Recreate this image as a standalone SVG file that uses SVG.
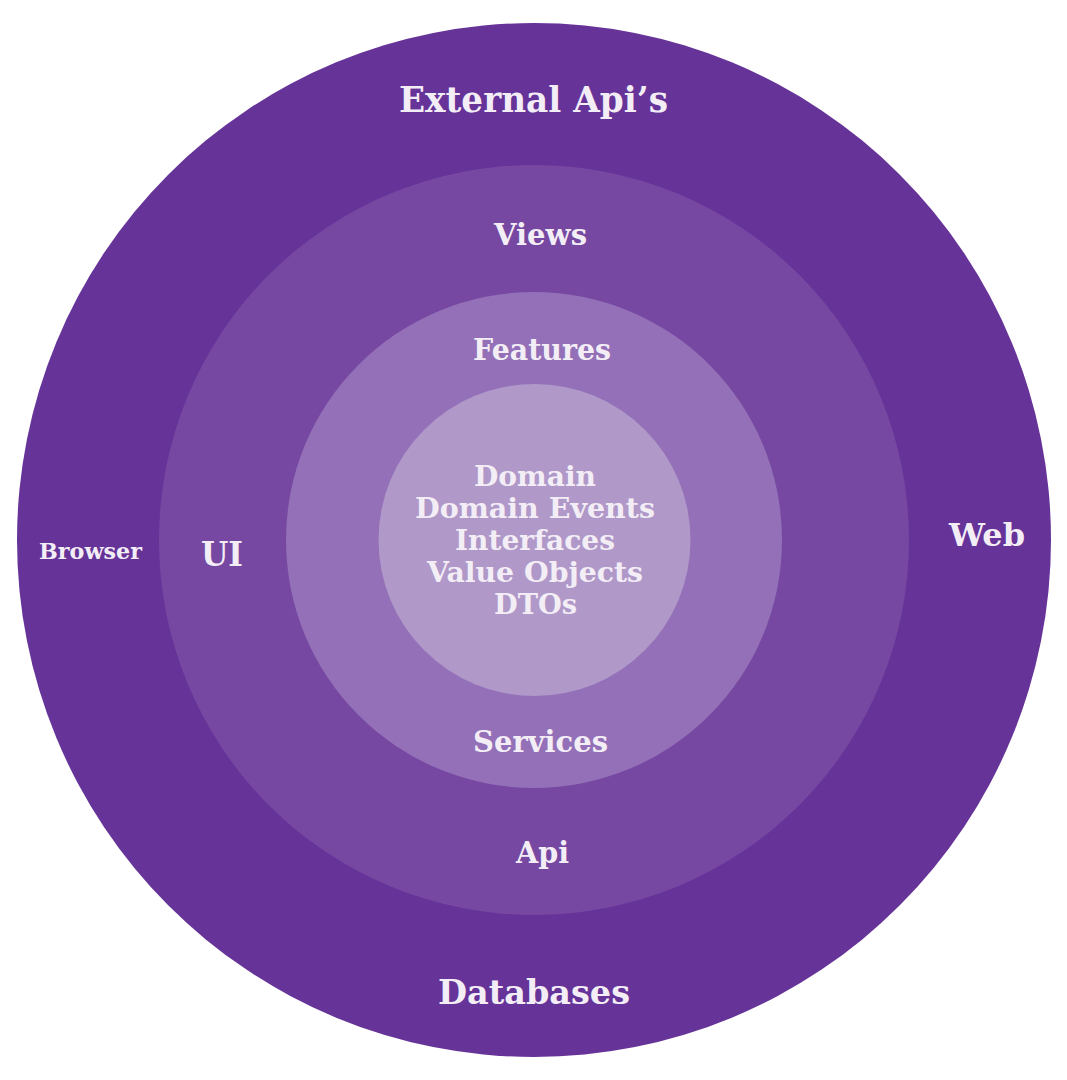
<svg xmlns="http://www.w3.org/2000/svg" width="1067" height="1080" viewBox="0 0 1067 1080">
<style>
text{font-family:"DejaVu Serif","Liberation Serif",serif;font-weight:bold;fill:#f3eef6;text-anchor:middle}
</style>
<rect width="1067" height="1080" fill="#ffffff"/>
<g id="ring-outer"><circle cx="534" cy="540" r="517" fill="#663399"/></g>
<g id="ring-ui"><circle cx="534" cy="540" r="375" fill="#7648a2"/></g>
<g id="ring-app"><circle cx="534" cy="540" r="248" fill="#9370b7"/></g>
<g id="ring-core"><circle cx="534.5" cy="540" r="156" fill="#b098c9"/></g>
<g id="connectors"></g>
<g id="labels-outer">
<text x="533.5" y="112" font-size="35" textLength="269" lengthAdjust="spacingAndGlyphs">External Api’s</text>
<text x="534" y="1004" font-size="33" textLength="192" lengthAdjust="spacingAndGlyphs">Databases</text>
<text x="987" y="546" font-size="32" textLength="76" lengthAdjust="spacingAndGlyphs">Web</text>
<text x="90.5" y="559" font-size="22" textLength="103" lengthAdjust="spacingAndGlyphs">Browser</text>
</g>
<g id="labels-ui">
<text x="222" y="566" font-size="34" textLength="42" lengthAdjust="spacingAndGlyphs">UI</text>
<text x="540.5" y="245" font-size="29" textLength="93" lengthAdjust="spacingAndGlyphs">Views</text>
<text x="542.5" y="863" font-size="29" textLength="53" lengthAdjust="spacingAndGlyphs">Api</text>
</g>
<g id="labels-app">
<text x="542" y="360" font-size="29" textLength="138" lengthAdjust="spacingAndGlyphs">Features</text>
<text x="540.5" y="752" font-size="29" textLength="135" lengthAdjust="spacingAndGlyphs">Services</text>
</g>
<g id="labels-core" font-size="28">
<text x="535" y="486" textLength="122" lengthAdjust="spacingAndGlyphs">Domain</text>
<text x="535" y="518" textLength="240" lengthAdjust="spacingAndGlyphs">Domain Events</text>
<text x="535" y="550" textLength="160" lengthAdjust="spacingAndGlyphs">Interfaces</text>
<text x="535" y="582" textLength="216" lengthAdjust="spacingAndGlyphs">Value Objects</text>
<text x="535.5" y="614" textLength="83" lengthAdjust="spacingAndGlyphs">DTOs</text>
</g>
</svg>
